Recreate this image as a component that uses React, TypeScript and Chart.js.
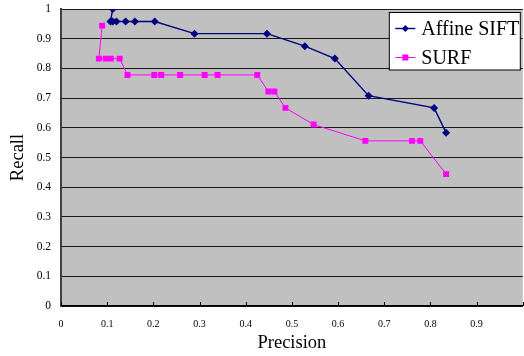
import React, { useEffect, useRef } from "react";
import { Chart, registerables } from "chart.js";

Chart.register(...registerables);

const siftPrecision = [0.112, 0.107, 0.112, 0.12, 0.14, 0.16, 0.203, 0.289, 0.446, 0.528, 0.593, 0.666, 0.808, 0.834];
const siftRecall = [1.0, 0.958, 0.958, 0.958, 0.958, 0.958, 0.958, 0.917, 0.917, 0.875, 0.833, 0.708, 0.667, 0.583];
const surfPrecision = [0.089, 0.082, 0.097, 0.108, 0.127, 0.144, 0.202, 0.217, 0.258, 0.311, 0.339, 0.425, 0.449, 0.462, 0.486, 0.547, 0.659, 0.76, 0.778, 0.834];
const surfRecall = [0.944, 0.833, 0.833, 0.833, 0.833, 0.778, 0.778, 0.778, 0.778, 0.778, 0.778, 0.778, 0.722, 0.722, 0.667, 0.611, 0.556, 0.556, 0.556, 0.444];
const seriesNames = ["Affine SIFT", "SURF"];
const xTitle = "Precision";
const yTitle = "Recall";

const SERIF = '"Liberation Serif", "Times New Roman", serif';

function fmt(v: number) {
  return String(Number(v.toFixed(1)));
}

const bgPlugin = {
  id: "plotBg",
  beforeDraw(chart: any) {
    const { ctx, chartArea } = chart;
    ctx.save();
    ctx.fillStyle = "#C0C0C0";
    ctx.fillRect(chartArea.left, chartArea.top, chartArea.right - chartArea.left, chartArea.bottom - chartArea.top);
    ctx.restore();
  },
};

const innerTicksPlugin = {
  id: "innerTicks",
  afterDraw(chart: any) {
    const { ctx, chartArea } = chart;
    const xs = chart.scales.x;
    ctx.save();
    ctx.strokeStyle = "#000";
    ctx.lineWidth = 1;
    xs.ticks.forEach((t: any) => {
      const px = Math.round(xs.getPixelForValue(t.value)) + 0.5;
      ctx.beginPath();
      ctx.moveTo(px, chartArea.bottom);
      ctx.lineTo(px, chartArea.bottom - 4);
      ctx.stroke();
    });
    ctx.restore();
  },
};

const legendPlugin = {
  id: "boxLegend",
  afterDraw(chart: any) {
    const { ctx, chartArea } = chart;
    const w = 131;
    const h = 57.5;
    const x0 = chartArea.right - 2.5 - w;
    const y0 = chartArea.top + 3.5;
    ctx.save();
    ctx.fillStyle = "#fff";
    ctx.fillRect(x0, y0, w, h);
    ctx.strokeStyle = "#000";
    ctx.lineWidth = 1;
    ctx.strokeRect(x0, y0, w, h);
    ctx.font = `20px ${SERIF}`;
    ctx.textBaseline = "middle";
    ctx.textAlign = "left";
    chart.data.datasets.forEach((ds: any, i: number) => {
      const cy = y0 + 16 + i * 29;
      const lx = x0 + 6;
      ctx.strokeStyle = ds.borderColor;
      ctx.lineWidth = ds.borderWidth;
      ctx.beginPath();
      ctx.moveTo(lx, cy);
      ctx.lineTo(lx + 20, cy);
      ctx.stroke();
      ctx.fillStyle = ds.pointBackgroundColor;
      const r = 3.5;
      ctx.beginPath();
      if (ds.pointStyle === "rectRot") {
        ctx.moveTo(lx + 10, cy - r);
        ctx.lineTo(lx + 10 + r, cy);
        ctx.lineTo(lx + 10, cy + r);
        ctx.lineTo(lx + 10 - r, cy);
        ctx.closePath();
      } else {
        ctx.rect(lx + 10 - 3, cy - 3, 6, 6);
      }
      ctx.fill();
      ctx.fillStyle = "#000";
      ctx.fillText(ds.label, lx + 26, cy + 1);
    });
    ctx.restore();
  },
};

export default function App() {
  const ref = useRef<HTMLCanvasElement | null>(null);
  useEffect(() => {
    if (!ref.current) return;
    const chart = new Chart(ref.current, {
      type: "scatter",
      data: {
        datasets: [
          {
            label: seriesNames[0],
            data: siftPrecision.map((p, i) => ({ x: p, y: siftRecall[i] })),
            showLine: true,
            borderColor: "#000080",
            backgroundColor: "#000080",
            pointBackgroundColor: "#000080",
            pointBorderColor: "#000080",
            borderWidth: 1.4,
            pointStyle: "rectRot",
            pointRadius: 4,
            pointBorderWidth: 0,
          },
          {
            label: seriesNames[1],
            data: surfPrecision.map((p, i) => ({ x: p, y: surfRecall[i] })),
            showLine: true,
            borderColor: "#FF00FF",
            backgroundColor: "#FF00FF",
            pointBackgroundColor: "#FF00FF",
            pointBorderColor: "#FF00FF",
            borderWidth: 1,
            pointStyle: "rect",
            pointRadius: 4.2,
            pointBorderWidth: 0,
          },
        ],
      },
      options: {
        animation: false,
        responsive: false,
        maintainAspectRatio: false,
        layout: { padding: { top: 9, right: 1, left: 0, bottom: 0 } },
        plugins: { legend: { display: false }, tooltip: { enabled: false } },
        scales: {
          x: {
            type: "linear",
            min: 0,
            max: 1,
            afterFit: (s: any) => {
              s.height = 50;
              s.paddingLeft = 0;
              s.paddingRight = 0;
            },
            ticks: {
              stepSize: 0.1,
              maxRotation: 0,
              autoSkip: false,
              padding: 12,
              color: "#000",
              font: { family: SERIF, size: 10 },
              callback: (v: any) => (Number(v) > 0.95 ? "" : fmt(Number(v))),
            },
            grid: { display: true, drawOnChartArea: false, drawTicks: false },
            border: { display: true, color: "#000", width: 1.5 },
            title: {
              display: true,
              text: xTitle,
              color: "#000",
              font: { family: SERIF, size: 18.5 },
              padding: { top: 0, bottom: 2 },
            },
          },
          y: {
            type: "linear",
            min: 0,
            max: 1,
            afterFit: (s: any) => {
              s.width = 61;
              s.paddingTop = 0;
              s.paddingBottom = 0;
            },
            ticks: {
              stepSize: 0.1,
              padding: 10,
              color: "#000",
              font: { family: SERIF, size: 11.5 },
              callback: (v: any) => fmt(Number(v)),
            },
            grid: { color: "#1a1a1a", lineWidth: 1, drawTicks: false },
            border: { display: true, color: "#404040", width: 2 },
            title: {
              display: true,
              text: yTitle,
              color: "#000",
              font: { family: SERIF, size: 18.5 },
              padding: { top: 7, bottom: 0 },
            },
          },
        },
      },
      plugins: [bgPlugin, innerTicksPlugin, legendPlugin],
    } as any);
    return () => chart.destroy();
  }, []);
  return (
    <div style={{ position: "fixed", left: 0, top: 0, width: 524, height: 356, overflow: "hidden", background: "#fff" }}>
      <canvas ref={ref} width={527} height={356} style={{ display: "block", width: 527, height: 356 }} />
    </div>
  );
}
